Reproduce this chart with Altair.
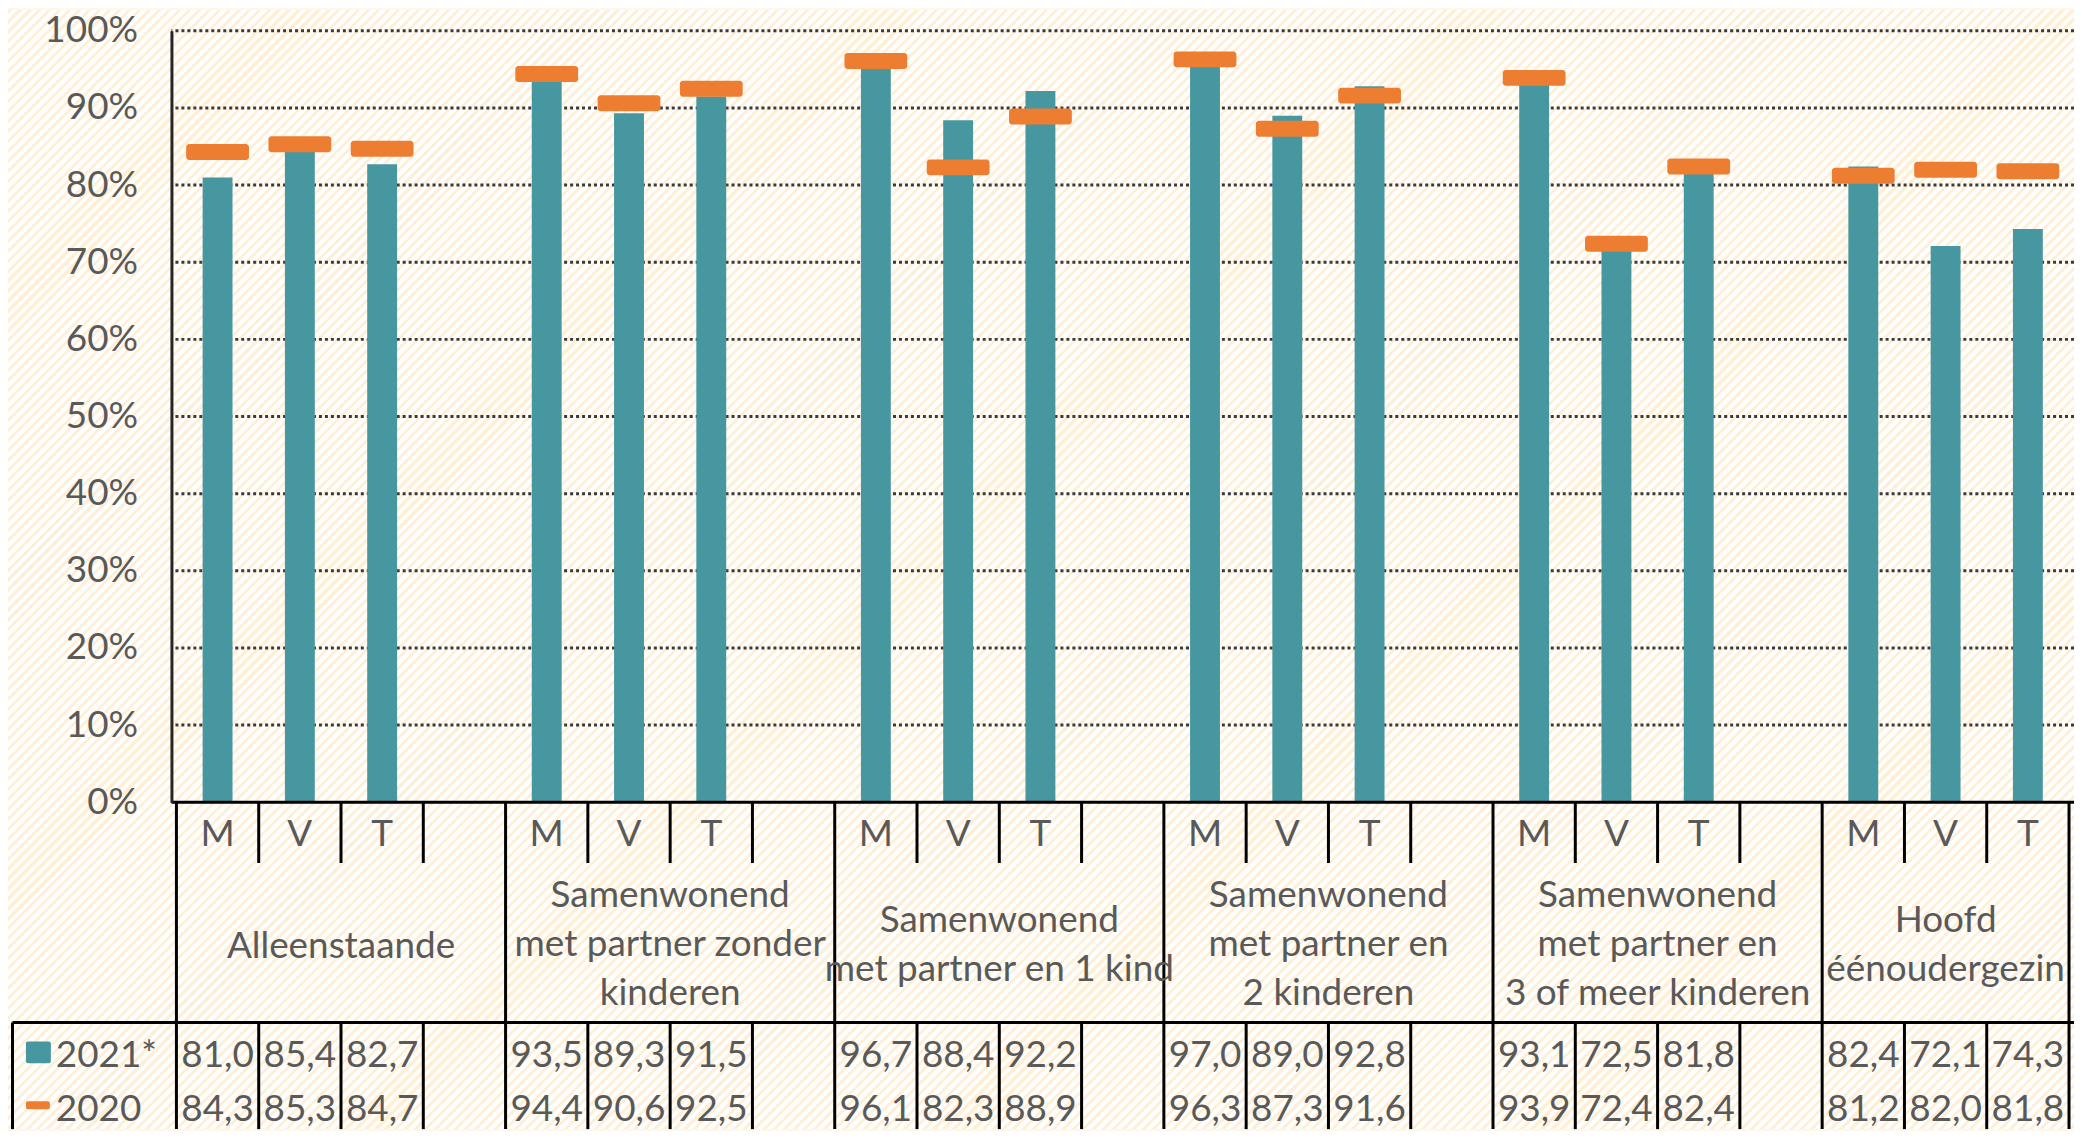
import altair as alt
import pandas as pd

# ---------------- data ----------------
group_labels = [
    "Alleenstaande",
    "Samenwonend\nmet partner zonder\nkinderen",
    "Samenwonend\nmet partner en 1 kind",
    "Samenwonend\nmet partner en\n2 kinderen",
    "Samenwonend\nmet partner en\n3 of meer kinderen",
    "Hoofd\néénoudergezin",
]
sexes = ["M", "V", "T"]
values_2021 = [81.0, 85.4, 82.7, 93.5, 89.3, 91.5, 96.7, 88.4, 92.2,
               97.0, 89.0, 92.8, 93.1, 72.5, 81.8, 82.4, 72.1, 74.3]
values_2020 = [84.3, 85.3, 84.7, 94.4, 90.6, 92.5, 96.1, 82.3, 88.9,
               96.3, 87.3, 91.6, 93.9, 72.4, 82.4, 81.2, 82.0, 81.8]
y_ticks = [0, 10, 20, 30, 40, 50, 60, 70, 80, 90, 100]
series_names = ["2021*", "2020"]

# ---------------- layout constants ----------------
SLOTS = 23
W = 1909
H = 774
PAD = {"left": 164, "top": 21, "right": 0, "bottom": 328}
BOTTOM = H + PAD["bottom"]
FONT = "Lato"
FS = 37
TXT = "#595959"
TEAL = "#4797A0"
ORANGE = "#ED7D31"
LINE = "#000000"
BG = "#FEF7EC"

rows = []
for g, label in enumerate(group_labels):
    for s, sx in enumerate(sexes):
        i = g * 3 + s
        rows.append({
            "group": label,
            "sex": sx,
            "pos": g * 4 + s + 0.5,
            "v2021": values_2021[i],
            "v2020": values_2020[i],
            "t2021": f"{values_2021[i]:.1f}".replace(".", ","),
            "t2020": f"{values_2020[i]:.1f}".replace(".", ","),
        })
df = pd.DataFrame(rows)

grp = pd.DataFrame({
    "group": group_labels,
    "pos": [(g * 4 + min(g * 4 + 4, SLOTS)) / 2 for g in range(len(group_labels))],
})
grp["nlines"] = grp["group"].str.count("\n") + 1

bounds_full = pd.DataFrame({"b": [0, 4, 8, 12, 16, 20, 23]})
bounds_inner = pd.DataFrame({"b": [b for b in range(1, 23) if b % 4 != 0]})
one = pd.DataFrame({"z": [0]})

xs = alt.Scale(domain=[0, SLOTS], nice=False, zero=False)
ys = alt.Scale(domain=[0, 100], nice=False)
yaxis = alt.Axis(values=y_ticks, labelExpr="datum.value + '%'",
                 grid=False, ticks=False, tickSize=0, labelPadding=34,
                 labelFont=FONT, labelFontSize=FS, labelColor=TXT,
                 domainColor="#262626", domainWidth=3, title=None, zindex=1)
X = alt.X("pos:Q", scale=xs, axis=None)
XB = alt.X("b:Q", scale=xs, axis=None)


def Y(field):
    return alt.Y(field, type="quantitative", scale=ys, axis=yaxis)


# ---------------- background stripes ----------------
TW = W + PAD["left"] + PAD["right"]
TH = H + PAD["top"] + PAD["bottom"]
k = (TW + TH) / (TW ** 2 + TH ** 2)
period = 10.0
n = int((TW + TH) / period) + 1
stripe = "#FEEFD6"
stops = []
for p in range(n):
    a = p * period / (TW + TH)
    b = (p + 0.42) * period / (TW + TH)
    c = (p + 1) * period / (TW + TH)
    for off, col in ((a, stripe), (b, stripe), (b, "#FFFFFF"), (c, "#FFFFFF")):
        stops.append(alt.GradientStop(color=col, offset=round(min(off, 1.0), 6)))
grad = alt.LinearGradient(gradient="linear", stops=stops,
                          x1=0, y1=0, x2=round(k * TW, 6), y2=round(k * TH, 6))

bg = alt.Chart(one).mark_rect(fill=grad, strokeWidth=0).encode(
    x=alt.value(-PAD["left"]), x2=alt.value(W + PAD["right"]),
    y=alt.value(-PAD["top"]), y2=alt.value(BOTTOM),
)

# ---------------- chart ----------------
grid = alt.Chart(pd.DataFrame({"t": y_ticks[1:]})).mark_rule(
    color="#3A3A3A", strokeWidth=3, strokeDash=[3, 3]
).encode(y=Y("t"))

zero = alt.Chart(one).mark_rule(color=LINE, strokeWidth=3).encode(
    y=Y("z"), x=alt.value(0), x2=alt.value(W))

bars = alt.Chart(df).mark_bar(color=TEAL, width=30).encode(x=X, y=Y("v2021"))

ticks = alt.Chart(df).mark_tick(color=ORANGE, orient="horizontal", size=63,
                                thickness=16, cornerRadius=3, opacity=1).encode(
    x=X, y=Y("v2020"))

# table lines
full_lines = alt.Chart(bounds_full).mark_rule(color=LINE, strokeWidth=3).encode(
    x=XB, y=alt.value(H), y2=alt.value(BOTTOM))
short_top = alt.Chart(bounds_inner).mark_rule(color=LINE, strokeWidth=3).encode(
    x=XB, y=alt.value(H), y2=alt.value(H + 61))
short_bot = alt.Chart(bounds_inner).mark_rule(color=LINE, strokeWidth=3).encode(
    x=XB, y=alt.value(H + 221), y2=alt.value(BOTTOM))
hline = alt.Chart(one).mark_rule(color=LINE, strokeWidth=3).encode(
    x=alt.value(-159.5), x2=alt.value(W), y=alt.value(H + 221))
lborder = alt.Chart(one).mark_rule(color=LINE, strokeWidth=3).encode(
    x=alt.value(-159.5), y=alt.value(H + 221), y2=alt.value(BOTTOM))

txt = dict(font=FONT, fontSize=FS, color=TXT, align="center", baseline="middle")
sex_text = alt.Chart(df).mark_text(**txt).encode(
    x=X, y=alt.value(H + 33), text="sex:N")
first_line_y = {1: H + 145, 2: H + 119, 3: H + 94}
grp_layers = [
    alt.Chart(grp).transform_filter(alt.datum.nlines == nl)
    .mark_text(lineBreak="\n", lineHeight=49, **txt)
    .encode(x=X, y=alt.value(fy), text="group:N")
    for nl, fy in first_line_y.items()
]
ROW1 = H + 255
ROW2 = H + 309
row1 = alt.Chart(df).mark_text(**txt).encode(
    x=X, y=alt.value(ROW1), text="t2021:N")
row2 = alt.Chart(df).mark_text(**txt).encode(
    x=X, y=alt.value(ROW2), text="t2020:N")

# legend keys inside the table
leg_df = pd.DataFrame({"name": series_names})
key1 = alt.Chart(one).mark_rect(color=TEAL, cornerRadius=2).encode(
    x=alt.value(-146), x2=alt.value(-121), y=alt.value(H + 240), y2=alt.value(H + 262))
key2 = alt.Chart(one).mark_rect(color=ORANGE, cornerRadius=2).encode(
    x=alt.value(-146), x2=alt.value(-122), y=alt.value(H + 300), y2=alt.value(H + 308))
leg1 = alt.Chart(leg_df.iloc[[0]]).mark_text(font=FONT, fontSize=FS, color=TXT,
                                             align="left", baseline="middle").encode(
    x=alt.value(-116), y=alt.value(ROW1), text="name:N")
leg2 = alt.Chart(leg_df.iloc[[1]]).mark_text(font=FONT, fontSize=FS, color=TXT,
                                             align="left", baseline="middle").encode(
    x=alt.value(-116), y=alt.value(ROW2), text="name:N")

chart = alt.layer(
    bg, grid, bars, ticks, zero, full_lines, short_top, short_bot, hline, lborder,
    sex_text, *grp_layers, row1, row2, key1, key2, leg1, leg2
).properties(
    width=W, height=H, padding=PAD,
    autosize=alt.AutoSizeParams(type="none"),
    background=BG,
).configure_view(strokeWidth=0)

chart.save("out.html", embed_options={"renderer": "svg", "actions": False})
